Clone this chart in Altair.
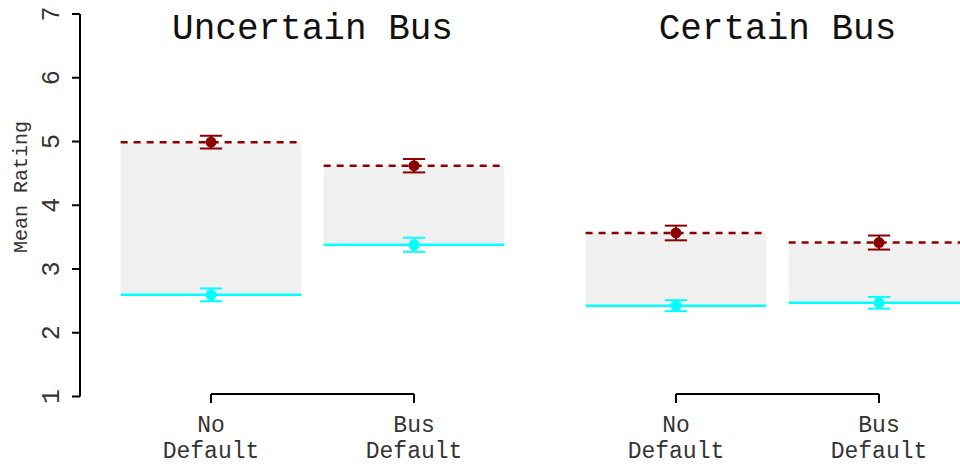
import altair as alt
import pandas as pd

# ---- data ----
panels = ["Uncertain Bus", "Uncertain Bus", "Certain Bus", "Certain Bus"]
conditions = ["No Default", "Bus Default", "No Default", "Bus Default"]
positions = [1.0, 2.0, 3.29, 4.29]
high_mean = [4.99, 4.62, 3.565, 3.415]
high_se = [0.10, 0.105, 0.115, 0.11]
low_mean = [2.595, 3.38, 2.425, 2.47]
low_se = [0.10, 0.11, 0.086, 0.092]
y_ticks = [1, 2, 3, 4, 5, 6, 7]
panel_names = ["Uncertain Bus", "Certain Bus"]

DARKRED = "#8B0000"
CYAN = "#00FFFF"
FONT = "Liberation Mono"

half = 0.445
cap = 0.055

df = pd.DataFrame({
    "panel": panels, "cond": conditions, "pos": positions,
    "hi": high_mean, "hise": high_se, "lo": low_mean, "lose": low_se,
})
df["x0"] = df["pos"] - half
df["x1"] = df["pos"] + half
df["c0"] = df["pos"] - cap
df["c1"] = df["pos"] + cap
df["hi_lo"] = df["hi"] - df["hise"]
df["hi_hi"] = df["hi"] + df["hise"]
df["lo_lo"] = df["lo"] - df["lose"]
df["lo_hi"] = df["lo"] + df["lose"]

pdf = pd.DataFrame({"panel": panel_names})
pdf["start"] = [df.loc[df.panel == p, "pos"].min() for p in panel_names]
pdf["end"] = [df.loc[df.panel == p, "pos"].max() for p in panel_names]
pdf["mid"] = (pdf["start"] + pdf["end"]) / 2

tdf = pd.DataFrame({"t": y_ticks})
adf = pd.DataFrame({"a": [min(y_ticks)], "b": [max(y_ticks)]})

xs = alt.Scale(domain=[1, 4.29], range=[211, 879])
ys = alt.Scale(domain=[1, 7], range=[396.5, 14])

base = alt.Chart(df)

rects = base.mark_rect(color="#F0F0F0").encode(
    x=alt.X("x0:Q", scale=xs, axis=None), x2="x1:Q",
    y=alt.Y("lo:Q", scale=ys, axis=None), y2="hi:Q",
)

hi_line = base.mark_rule(color=DARKRED, strokeWidth=2.5, strokeDash=[7, 6]).encode(
    x=alt.X("x0:Q", scale=xs, axis=None), x2="x1:Q",
    y=alt.Y("hi:Q", scale=ys, axis=None),
)
lo_line = base.mark_rule(color=CYAN, strokeWidth=2.5).encode(
    x=alt.X("x0:Q", scale=xs, axis=None), x2="x1:Q",
    y=alt.Y("lo:Q", scale=ys, axis=None),
)

def errbar(mid, lo, hi, color):
    v = base.mark_rule(color=color, strokeWidth=2).encode(
        x=alt.X("pos:Q", scale=xs, axis=None),
        y=alt.Y(f"{lo}:Q", scale=ys, axis=None), y2=f"{hi}:Q",
    )
    c1 = base.mark_rule(color=color, strokeWidth=2).encode(
        x=alt.X("c0:Q", scale=xs, axis=None), x2="c1:Q",
        y=alt.Y(f"{lo}:Q", scale=ys, axis=None),
    )
    c2 = base.mark_rule(color=color, strokeWidth=2).encode(
        x=alt.X("c0:Q", scale=xs, axis=None), x2="c1:Q",
        y=alt.Y(f"{hi}:Q", scale=ys, axis=None),
    )
    p = base.mark_circle(color=color, size=120, opacity=1).encode(
        x=alt.X("pos:Q", scale=xs, axis=None),
        y=alt.Y(f"{mid}:Q", scale=ys, axis=None),
    )
    return [v, c1, c2, p]

hi_err = errbar("hi", "hi_lo", "hi_hi", DARKRED)
lo_err = errbar("lo", "lo_lo", "lo_hi", CYAN)

# y axis drawn by hand (R style, spanning 1..7 only)
axis_line = alt.Chart(adf).mark_rule(color="black", strokeWidth=2).encode(
    x=alt.value(80),
    y=alt.Y("a:Q", scale=ys, axis=None), y2="b:Q",
)
axis_ticks = alt.Chart(tdf).mark_rule(color="black", strokeWidth=2).encode(
    x=alt.value(72), x2=alt.value(80),
    y=alt.Y("t:Q", scale=ys, axis=None),
)
axis_labels = alt.Chart(tdf).mark_text(
    font=FONT, fontSize=25, angle=270, align="center", baseline="middle", color="#333333"
).encode(
    x=alt.value(51),
    y=alt.Y("t:Q", scale=ys, axis=None),
    text="t:N",
)
axis_title = alt.Chart(adf).mark_text(
    font=FONT, fontSize=20, angle=270, align="center", baseline="middle", color="#333333"
).encode(
    x=alt.value(21), y=alt.value(187), text=alt.value("Mean Rating"),
)

# panel titles
titles = alt.Chart(pdf).mark_text(
    font=FONT, fontSize=36, align="center", baseline="alphabetic", color="#111111"
).encode(
    x=alt.X("mid:Q", scale=xs, axis=None), y=alt.value(39), text="panel:N",
)

# brackets under each panel
bracket_h = alt.Chart(pdf).mark_rule(color="black", strokeWidth=2).encode(
    x=alt.X("start:Q", scale=xs, axis=None), x2="end:Q", y=alt.value(394),
)
bracket_v = base.mark_rule(color="black", strokeWidth=2).encode(
    x=alt.X("pos:Q", scale=xs, axis=None), y=alt.value(394), y2=alt.value(403),
)
cond_labels = base.mark_text(
    font=FONT, fontSize=23, align="center", baseline="alphabetic",
    lineBreak=" ", lineHeight=26, color="#333333",
).encode(
    x=alt.X("pos:Q", scale=xs, axis=None), y=alt.value(432), text="cond:N",
)

chart = alt.layer(
    rects, hi_line, lo_line, *hi_err, *lo_err,
    axis_line, axis_ticks, axis_labels, axis_title,
    titles, bracket_h, bracket_v, cond_labels,
).properties(
    width=960, height=464,
    autosize=alt.AutoSizeParams(type="none"),
    padding=0,
).configure_view(strokeWidth=0)

chart.save("out.html", embed_options={"renderer": "svg", "actions": False})
